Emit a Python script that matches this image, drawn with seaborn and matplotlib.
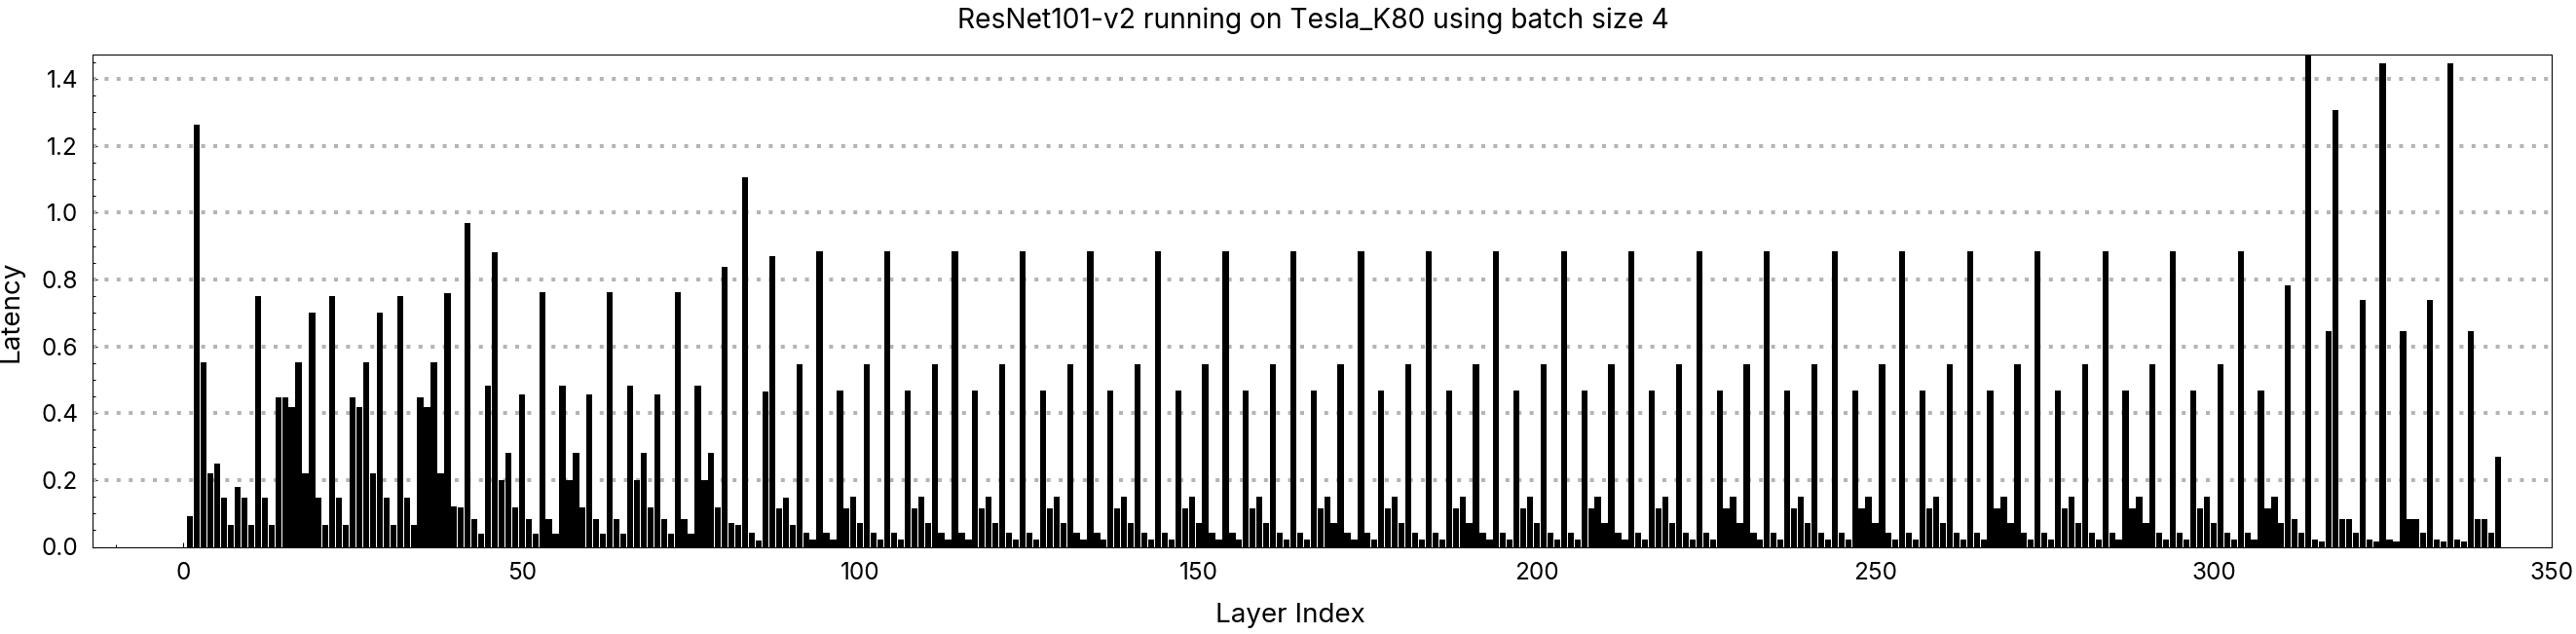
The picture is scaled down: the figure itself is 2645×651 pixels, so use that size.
import matplotlib
matplotlib.use("Agg")
import numpy as np
import pandas as pd
import seaborn as sns
import matplotlib.pyplot as plt
from matplotlib.ticker import MultipleLocator, FormatStrFormatter

# ---------------- data ----------------
title = "ResNet101-v2 running on Tesla_K80 using batch size 4"
x_label = "Layer Index"
y_label = "Latency"

layer_index = list(range(1, 343))

latency = [
    # 1-10
    0.093, 1.264, 0.553, 0.221, 0.250, 0.146, 0.067, 0.178, 0.146, 0.067,
    # 11-20
    0.749, 0.146, 0.067, 0.446, 0.446, 0.419, 0.553, 0.221, 0.702, 0.146,
    # 21-30
    0.067, 0.749, 0.146, 0.067, 0.446, 0.419, 0.553, 0.221, 0.702, 0.146,
    # 31-40
    0.067, 0.749, 0.146, 0.067, 0.446, 0.419, 0.553, 0.221, 0.760, 0.122,
    # 41-50
    0.117, 0.970, 0.082, 0.038, 0.481, 0.880, 0.201, 0.280, 0.117, 0.457,
    # 51-60
    0.082, 0.038, 0.763, 0.082, 0.038, 0.481, 0.201, 0.280, 0.117, 0.457,
    # 61-70
    0.082, 0.038, 0.763, 0.082, 0.038, 0.481, 0.201, 0.280, 0.117, 0.457,
    # 71-80
    0.082, 0.038, 0.763, 0.082, 0.038, 0.481, 0.201, 0.280, 0.117, 0.839,
    # 81-90
    0.070, 0.067, 1.107, 0.041, 0.020, 0.466, 0.871, 0.114, 0.146, 0.067,
    # 91-100
    0.545, 0.043, 0.023, 0.885, 0.043, 0.023, 0.469, 0.116, 0.150, 0.070,
    # 101-110
    0.547, 0.043, 0.023, 0.885, 0.043, 0.023, 0.469, 0.116, 0.150, 0.070,
    # 111-120
    0.547, 0.043, 0.023, 0.885, 0.043, 0.023, 0.469, 0.116, 0.150, 0.070,
    # 121-130
    0.547, 0.043, 0.023, 0.885, 0.043, 0.023, 0.469, 0.116, 0.150, 0.070,
    # 131-140
    0.547, 0.043, 0.023, 0.885, 0.043, 0.023, 0.469, 0.116, 0.150, 0.070,
    # 141-150
    0.547, 0.043, 0.023, 0.885, 0.043, 0.023, 0.469, 0.116, 0.150, 0.070,
    # 151-160
    0.547, 0.043, 0.023, 0.885, 0.043, 0.023, 0.469, 0.116, 0.150, 0.070,
    # 161-170
    0.547, 0.043, 0.023, 0.885, 0.043, 0.023, 0.469, 0.116, 0.150, 0.070,
    # 171-180
    0.547, 0.043, 0.023, 0.885, 0.043, 0.023, 0.469, 0.116, 0.150, 0.070,
    # 181-190
    0.547, 0.043, 0.023, 0.885, 0.043, 0.023, 0.469, 0.116, 0.150, 0.070,
    # 191-200
    0.547, 0.043, 0.023, 0.885, 0.043, 0.023, 0.469, 0.116, 0.150, 0.070,
    # 201-210
    0.547, 0.043, 0.023, 0.885, 0.043, 0.023, 0.469, 0.116, 0.150, 0.070,
    # 211-220
    0.547, 0.043, 0.023, 0.885, 0.043, 0.023, 0.469, 0.116, 0.150, 0.070,
    # 221-230
    0.547, 0.043, 0.023, 0.885, 0.043, 0.023, 0.469, 0.116, 0.150, 0.070,
    # 231-240
    0.547, 0.043, 0.023, 0.885, 0.043, 0.023, 0.469, 0.116, 0.150, 0.070,
    # 241-250
    0.547, 0.043, 0.023, 0.885, 0.043, 0.023, 0.469, 0.116, 0.150, 0.070,
    # 251-260
    0.547, 0.043, 0.023, 0.885, 0.043, 0.023, 0.469, 0.116, 0.150, 0.070,
    # 261-270
    0.547, 0.043, 0.023, 0.885, 0.043, 0.023, 0.469, 0.116, 0.150, 0.070,
    # 271-280
    0.547, 0.043, 0.023, 0.885, 0.043, 0.023, 0.469, 0.116, 0.150, 0.070,
    # 281-290
    0.547, 0.043, 0.023, 0.885, 0.043, 0.023, 0.469, 0.116, 0.150, 0.070,
    # 291-300
    0.547, 0.043, 0.023, 0.885, 0.043, 0.023, 0.469, 0.116, 0.150, 0.070,
    # 301-310
    0.547, 0.043, 0.023, 0.885, 0.043, 0.023, 0.469, 0.116, 0.150, 0.070,
    # 311-320
    0.783, 0.084, 0.041, 1.600, 0.023, 0.017, 0.646, 1.307, 0.082, 0.084,
    # 321-330
    0.041, 0.739, 0.023, 0.017, 1.447, 0.023, 0.017, 0.646, 0.082, 0.084,
    # 331-340
    0.041, 0.739, 0.023, 0.017, 1.447, 0.023, 0.017, 0.646, 0.082, 0.084,
    # 341-342
    0.041, 0.270,
]

x_major_step = 50
x_minor_step = 10
y_major_step = 0.2
y_minor_step = 0.05

# ---------------- plot ----------------
sns.set_theme(style="white")
plt.rcParams["font.family"] = ["Inter", "DejaVu Sans"]

df = pd.DataFrame({x_label: layer_index, y_label: latency})

W, H = 2645, 651
fig = plt.figure(figsize=(W / 100, H / 100), dpi=100)
left, right, top, bottom = 95.3, 2620.3, 56.3, 561.5
ax = fig.add_axes([left / W, 1 - bottom / H, (right - left) / W, (bottom - top) / H])

sns.barplot(data=df, x=x_label, y=y_label, native_scale=True, color="black",
            saturation=1, width=0.9, errorbar=None, linewidth=0, ax=ax, zorder=3)

ax.set_xlim(-13.4, 350)
ax.set_ylim(0, 1.472)

ax.xaxis.set_major_locator(MultipleLocator(x_major_step))
ax.xaxis.set_minor_locator(MultipleLocator(x_minor_step))
ax.yaxis.set_major_locator(MultipleLocator(y_major_step))
ax.yaxis.set_minor_locator(MultipleLocator(y_minor_step))
ax.yaxis.set_major_formatter(FormatStrFormatter("%.1f"))
ax.xaxis.set_major_formatter(FormatStrFormatter("%d"))

# dotted horizontal grid (square dots), below the bars
ax.grid(False)
ax.set_axisbelow(True)
grid_levels = [t for t in ax.get_yticks() if 0 < t <= 1.472]
ax.hlines(grid_levels, -13.4, 350, colors="#b4b4b4", linewidth=2.88,
          linestyles=[(0, (1, 2.1))], zorder=1)

for s in ax.spines.values():
    s.set_visible(True)
    s.set_color("black")
    s.set_linewidth(0.75)
    s.set_zorder(4)

ax.tick_params(which="both", direction="in", color="black", width=0.75,
               bottom=True, left=True, top=False, right=False,
               labelsize=17.5, pad=11, labelcolor="black")
ax.tick_params(which="major", length=3.6)
ax.tick_params(which="minor", length=2.2)

ax.set_xlabel(x_label, fontsize=20, color="black")
ax.set_ylabel(y_label, fontsize=20, color="black")
ax.xaxis.set_label_coords(0.487, -0.114)
ax.yaxis.set_label_coords(-0.0282, 0.478)

fig.text(1348 / W, 1 - 21 / H, title, ha="center", va="center",
         fontsize=20.3, color="black")

fig.savefig("out.png", dpi=100, facecolor="white")
